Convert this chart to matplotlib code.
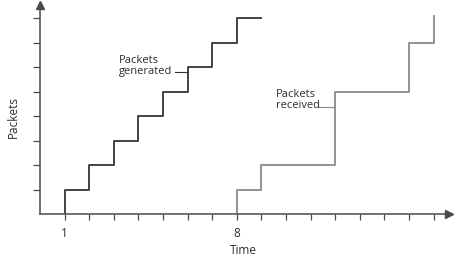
import matplotlib
matplotlib.use("Agg")
import matplotlib.pyplot as plt

plt.rcParams['font.family'] = ['Open Sans', 'DejaVu Sans']

# Data
gen_time = [1, 1, 2, 3, 4, 5, 6, 7, 8, 9]
gen_packets = [0, 1, 2, 3, 4, 5, 6, 7, 8, 8]
recv_time = [8, 8, 9, 12, 15, 16]
recv_packets = [0, 1, 2, 5, 7, 8.1]

x_ticks = list(range(1, 17))
x_tick_labels = ['1' if t == 1 else '8' if t == 8 else '' for t in x_ticks]
y_ticks = list(range(1, 9))

dark = '#353535'
light = '#8a8a8a'
axis_col = '#4a4a4a'
text_col = '#2e2e2e'

fig = plt.figure(figsize=(4.65, 2.59), dpi=100)
ax = fig.add_axes([0.086, 0.1726, 0.886, 0.815])
ax.set_xlim(0, 16.75)
ax.set_ylim(0, 8.62)

# Step lines
ax.plot(gen_time, gen_packets, drawstyle='steps-post', color=dark, lw=1.3)
ax.plot(recv_time, recv_packets, drawstyle='steps-post', color=light, lw=1.3)

# Annotations with short leader lines
ax.text(3.21, 6.05, 'Packets\ngenerated', ha='left', va='center',
        fontsize=8, color=text_col, linespacing=1.0)
ax.plot([5.48, 6.0], [5.8, 5.8], color=dark, lw=0.8)
ax.text(9.6, 4.66, 'Packets\nreceived', ha='left', va='center',
        fontsize=8, color=text_col, linespacing=1.05)
ax.plot([11.35, 12.0], [4.38, 4.38], color=light, lw=0.8)

# Axes styling
for s in ['top', 'right']:
    ax.spines[s].set_visible(False)
for s in ['left', 'bottom']:
    ax.spines[s].set_color(axis_col)
    ax.spines[s].set_linewidth(1.1)

# arrow heads at the axis ends
ax.plot([16.62], [0], marker='>', color=axis_col, markersize=6, clip_on=False,
        zorder=5)
ax.plot([0], [8.55], marker='^', color=axis_col, markersize=6, clip_on=False,
        zorder=5)

ax.set_xticks(x_ticks)
ax.set_xticklabels(x_tick_labels)
ax.set_yticks(y_ticks)
ax.set_yticklabels([])
ax.tick_params(axis='x', direction='out', length=4, width=0.9, color=axis_col,
               pad=5, labelsize=8.5, labelcolor=text_col)
ax.tick_params(axis='y', direction='out', length=5, width=0.9, color=axis_col)

ax.set_xlabel('Time', fontsize=8.5, color=text_col)
ax.xaxis.set_label_coords(0.493, -0.14)
ax.set_ylabel('Packets', fontsize=8.5, color=text_col)
ax.yaxis.set_label_coords(-0.05, 0.46)

fig.savefig('out.png', dpi=100)
